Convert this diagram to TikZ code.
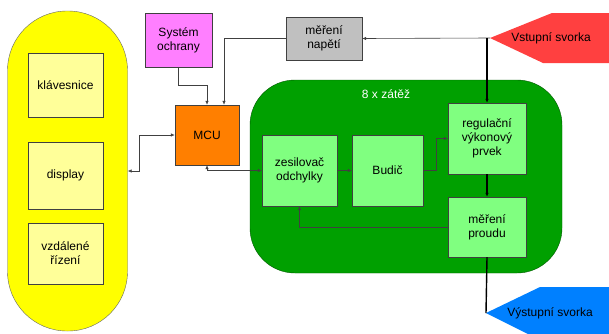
\documentclass[tikz,border=0pt]{standalone}
\usepackage{fontspec}
\setmainfont{Liberation Sans}
\usetikzlibrary{arrows.meta, positioning, calc}

\definecolor{uiyellow}{HTML}{FFFF00}
\definecolor{paleyellow}{HTML}{FFFF99}
\definecolor{protpink}{HTML}{FF7FFF}
\definecolor{mcuorange}{HTML}{FF7F00}
\definecolor{measgray}{HTML}{C0C0C0}
\definecolor{loadgreen}{HTML}{00A000}
\definecolor{palegreen}{HTML}{80FF80}
\definecolor{inred}{HTML}{FF4040}
\definecolor{outblue}{HTML}{0080FF}

\begin{document}
\begin{tikzpicture}[
    x=1pt, y=-1pt,
    >={Latex[length=4pt,width=3.5pt]},
    font=\fontsize{12}{14}\selectfont,
    % Blocks
    block/.style ={draw=black!75, align=center, inner sep=1pt},
    panel/.style ={block, fill=paleyellow, minimum width=75pt},
    stage/.style ={block, fill=palegreen},
    % Wires
    wire/.style  ={draw=black!75, line width=0.6pt},
    pwr/.style   ={draw=black, line width=1.4pt}
]
\useasboundingbox (0,0) rectangle (609,333);

% --------------------------- Operator side ---------------------------
\node[draw=black!60, fill=uiyellow, rounded corners=59.5pt,
      minimum width=120pt, minimum height=320pt] (ui) at (67.5,171) {};
\node[panel, minimum height=64pt] (kbd)    at (65.5,85)    {klávesnice};
\node[panel, minimum height=67pt] (disp)   at (65.5,175.5) {display};
\node[panel, minimum height=61pt] (remote) at (65.5,253.5) {vzdálené\\řízení};

% --------------------------- Control --------------------------------
\node[block, fill=protpink, minimum width=67pt, minimum height=54pt] (prot) at (178.5,40) {Systém\\ochrany};
\node[block, fill=mcuorange, minimum width=64pt, minimum height=60pt] (mcu) at (207,135) {MCU};
\node[block, fill=measgray, minimum width=76pt, minimum height=43pt] (umeas) at (324,38.5) {měření\\napětí};

% --------------------------- Terminals ------------------------------
\fill[inred] (490,38) -- (552,13) -- (620,13) -- (620,63) -- (543,63) -- cycle;
\node (vin) at (551,38) {Vstupní svorka};
\coordinate (vintip) at (490,38);

\fill[outblue] (486,313) -- (540,287) -- (620,287) -- (620,340) -- (540,340) -- cycle;
\node (vout) at (550,313) {Výstupní svorka};
\coordinate (vouttip) at (486,313);

% --------------------------- Load (8x) ------------------------------
\node[draw=green!35!black, fill=loadgreen, rounded corners=45pt,
      minimum width=312pt, minimum height=193pt] (load) at (406,176.5) {};
\node[text=white] (loadlbl) at (386,94) {8 x zátěž};

\node[stage, minimum width=75pt, minimum height=71pt] (amp)   at (299.5,170.5) {zesilovač\\odchylky};
\node[stage, minimum width=71pt, minimum height=71pt] (drv)   at (387.5,170.5) {Budič};
\node[stage, minimum width=78pt, minimum height=71pt] (reg)   at (487,138.5)   {regulační\\výkonový\\prvek};
\node[stage, minimum width=78pt, minimum height=60pt] (imeas) at (487,227)     {měření\\proudu};

% ======================== Wiring =====================================
\draw[wire,->] (vintip) -- (umeas.east);
\draw[wire,->] (umeas.west) -| ($(mcu.north)+(17,0)$);
\draw[wire,->] (prot.south) -- ++(0,18) -| (mcu.north);
\draw[wire,<->] (mcu.west) -- ++(-36,0) |- (ui.east);
\draw[wire,<->] (mcu.south) |- (amp.west);

\draw[wire,->] (amp) -- (drv);
\draw[wire,->] (drv.east) -- ++(13,0) |- (reg.west);
\draw[wire,->] (imeas.west) -| (amp.south);

% Power path
\draw[pwr,->] (reg.north |- vintip) -- (reg.north);
\draw[pwr,->] (reg) -- (imeas);
\draw[pwr] (imeas.south) -- (vouttip);

\end{tikzpicture}
\end{document}
